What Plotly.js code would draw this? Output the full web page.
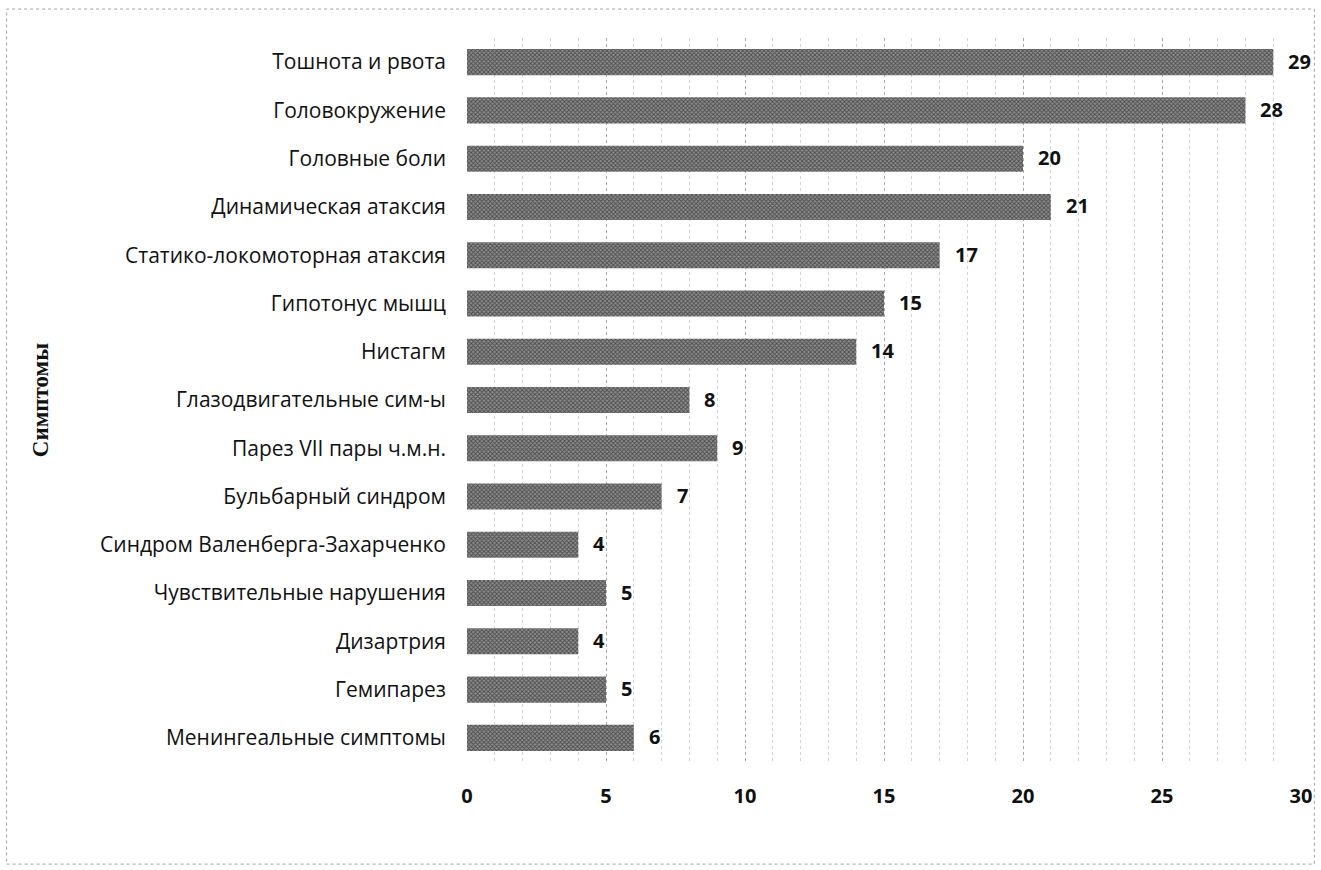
<!DOCTYPE html>
<html>
<head>
<meta charset="utf-8">
<script src="https://cdn.plot.ly/plotly-3.0.1.min.js"></script>
<style>html,body{margin:0;padding:0;background:#fff;}#chart{width:1321px;height:870px;}</style>
</head>
<body>
<div id="chart"></div>
<script>
const symptoms = [
  "Тошнота и рвота",
  "Головокружение",
  "Головные боли",
  "Динамическая атаксия",
  "Статико-локомоторная атаксия",
  "Гипотонус мышц",
  "Нистагм",
  "Глазодвигательные сим-ы",
  "Парез VII пары ч.м.н.",
  "Бульбарный синдром",
  "Синдром Валенберга-Захарченко",
  "Чувствительные нарушения",
  "Дизартрия",
  "Гемипарез",
  "Менингеальные симптомы"
];
const counts = [29, 28, 20, 21, 17, 15, 14, 8, 9, 7, 4, 5, 4, 5, 6];
const xTicks = [0, 5, 10, 15, 20, 25, 30];
const yTitle = "Симптомы";

const labelFont = {family: "Open Sans, Liberation Sans, sans-serif", size: 20, color: "#111", weight: 700};

const annotations = symptoms.map((s, i) => ({
  x: counts[i], y: s, xref: "x", yref: "y",
  text: String(counts[i]), showarrow: false,
  xanchor: "left", yanchor: "middle", xshift: 13, yshift: 1,
  font: labelFont
}));

const trace = {
  type: "bar", orientation: "h",
  x: counts, y: symptoms,
  width: 0.54,
  marker: {
    color: "#7a7a7a",
    line: {width: 0},
    pattern: {shape: "x", size: 3, solidity: 0.5, fgcolor: "#4c4c4c", bgcolor: "#8e8e8e"}
  },
  hoverinfo: "x+y"
};

const layout = {
  width: 1321, height: 870,
  margin: {l: 467, r: 20, t: 38, b: 108},
  paper_bgcolor: "#fff", plot_bgcolor: "#fff",
  showlegend: false,
  bargap: 0.46,
  xaxis: {
    range: [0, 30],
    tickvals: xTicks,
    ticktext: xTicks.map(String),
    ticks: "",
    ticklabelstandoff: 20,
    tickfont: labelFont,
    showgrid: true, gridcolor: "#a8a8a8", griddash: "dot", gridwidth: 1,
    minor: {dtick: 1, showgrid: true, gridcolor: "#d2d2d2", griddash: "dot", gridwidth: 1},
    zeroline: false, showline: false, fixedrange: true
  },
  yaxis: {
    autorange: "reversed",
    type: "category",
    ticks: "",
    ticklabelstandoff: 20,
    tickfont: {family: "Open Sans, Liberation Sans, sans-serif", size: 21, color: "#111"},
    showgrid: false, zeroline: false, showline: false, fixedrange: true,
    title: {text: yTitle, standoff: 44, font: {family: "Liberation Serif, Times New Roman, serif", size: 23, color: "#111", weight: 700}}
  },
  annotations: annotations,
  shapes: [{
    type: "rect", xref: "paper", yref: "paper",
    x0: -0.552, x1: 1.016, y0: -0.141, y1: 1.040,
    line: {color: "#a0a0a0", width: 1, dash: "dot"}, layer: "below"
  }]
};

Plotly.newPlot("chart", [trace], layout, {displayModeBar: false, staticPlot: true});
</script>
</body>
</html>
